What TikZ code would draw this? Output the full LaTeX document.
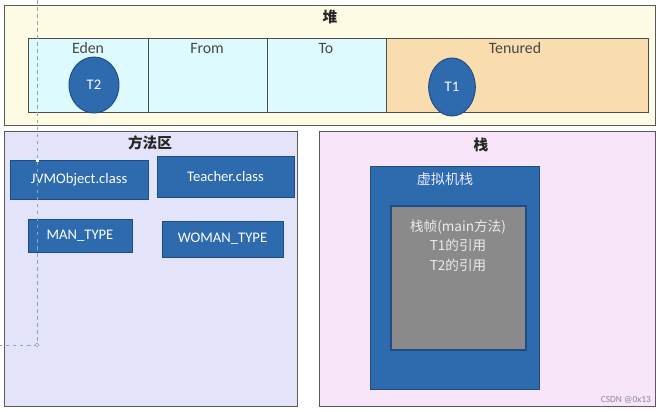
\documentclass[tikz,border=0pt]{standalone}
\usepackage{fontspec}
\setmainfont{Carlito}
\newfontfamily\cjk{Noto Sans CJK SC}
\usetikzlibrary{positioning, shapes.geometric}

\definecolor{heapbg}{HTML}{FDFBE3}
\definecolor{youngbg}{HTML}{DDFAFE}
\definecolor{oldbg}{HTML}{FADDAF}
\definecolor{methodbg}{HTML}{E3E3FA}
\definecolor{stackbg}{HTML}{F8E5F9}
\definecolor{boxblue}{HTML}{2E6AAE}
\definecolor{boxedge}{HTML}{1F4C85}
\definecolor{framegray}{HTML}{8A8A8A}
\definecolor{guide}{HTML}{8FA3BD}

\tikzset{
  region/.style={draw=black!65, line width=0.6pt},
  title/.style={font=\cjk\bfseries\fontsize{12.5}{14}\selectfont, text=black!85},
  gen/.style={draw=black!70, line width=0.7pt},
  genlabel/.style={font=\fontsize{13.5}{15}\selectfont, text=black!72},
  obj/.style={ellipse, fill=boxblue, draw=boxedge, line width=0.8pt, text=white,
    font=\fontsize{12.5}{14}\selectfont},
  cls/.style={fill=boxblue, draw=boxedge, line width=0.8pt},
  clslabel/.style={text=white, font=\fontsize{12.5}{14}\selectfont},
}

\begin{document}
\begin{tikzpicture}[x=0.03cm, y=-0.03cm]
\useasboundingbox (0,0) rectangle (660,411);

% 堆
\draw[region, fill=heapbg] (4,5) rectangle (655,125);
\node[title] (heap) at (330,17) {堆};
\draw[gen, fill=youngbg] (28,38) rectangle (386,112);
\draw[gen, fill=oldbg] (386,38) rectangle (648,112);
\draw[gen] (148,38) -- (148,112);
\draw[gen] (267,38) -- (267,112);
\node[genlabel] (eden) at (88,48) {Eden};
\node[genlabel] (from) at (207,48) {From};
\node[genlabel] (to) at (326,48) {To};
\node[genlabel] (tenured) at (515,48) {Tenured};
\node[obj, minimum width=1.5cm, minimum height=1.68cm, inner sep=0pt] (t2) at (94,85) {T2};
\node[obj, minimum width=1.4cm, minimum height=1.74cm, inner sep=0pt] (t1) at (452,87) {T1};

% 方法区
\draw[region, fill=methodbg] (4,131) rectangle (297,406);
\node[title] (method) at (150,143) {方法区};
\draw[cls] (10,160) rectangle (148,199) node[midway, clslabel] (jvm) {JVMObject.class};
\draw[cls] (157,156) rectangle (294,197) node[midway, clslabel] (teacher) {Teacher.class};
\draw[cls] (28,219) rectangle (132,252) node[midway, clslabel] (man) {MAN\_TYPE};
\draw[cls] (162,221) rectangle (283,257) node[midway, clslabel] (woman) {WOMAN\_TYPE};

% 栈
\draw[region, fill=stackbg] (319,131) rectangle (655,406);
\node[title] (stack) at (481,145) {栈};
\draw[cls] (370,166) rectangle (539,389);
\node[font=\cjk\fontsize{12}{14}\selectfont, text=blue!8] (vmstack) at (445,179) {虚拟机栈};
\draw[fill=framegray, draw=boxedge, line width=1pt] (391,206) rectangle (526,350);
\node[font=\cjk\fontsize{11.6}{16.5}\selectfont, text=white!92!black, align=center, anchor=north]
  (frame) at (458,216) {栈帧(main方法)\\T1的引用\\T2的引用};

% 辅助线
\coordinate (g0) at (37,0);
\coordinate (g1) at (37,345);
\coordinate (g2) at (0,345);
\draw[guide, dashed, line width=0.6pt] (g0) -- (g1) -- (g2);
\draw[guide, fill=white, line width=0.5pt] (g1) circle (1.6pt);
\fill[white] (35.5,158.5) rectangle (38.5,161.5);

\node[font=\fontsize{8}{9}\selectfont, text=black!45, anchor=east] (mark) at (655,400) {CSDN @0x13};

\end{tikzpicture}
\end{document}
